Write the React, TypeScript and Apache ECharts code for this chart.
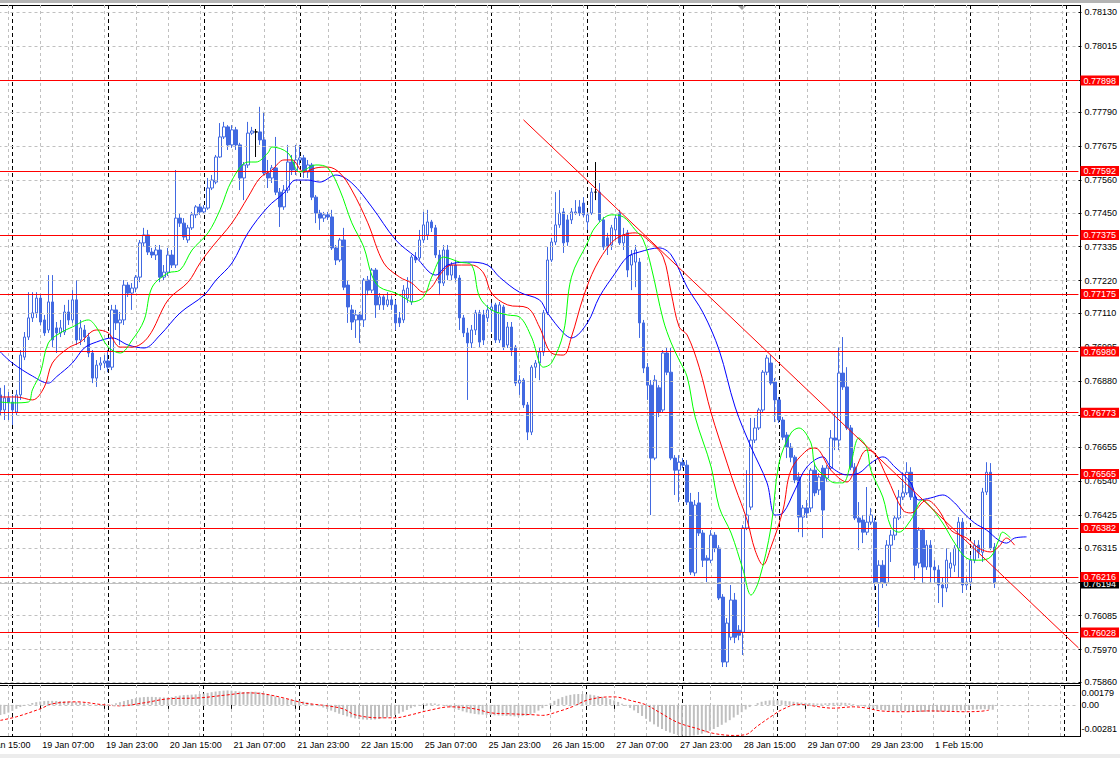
import { useEffect, useRef } from "react";
import * as echarts from "echarts";

// ---------- time axis ----------
const tradingDays = ["18 Jan", "19 Jan", "20 Jan", "21 Jan", "22 Jan", "25 Jan", "26 Jan", "27 Jan", "28 Jan", "29 Jan", "1 Feb", "2 Feb"];
const firstHour = 13; // first (off-screen) bar: 18 Jan 13:00
const OFF = 8; // bars hidden left of the visible area
const historyCount = 258; // OFF + 250 candles
const futureCount = 21; // empty shift area on the right

// ---------- price axis ----------
const priceTicks = [0.7813, 0.78015, 0.779, 0.7779, 0.77675, 0.7756, 0.7745, 0.77335, 0.7722, 0.7711, 0.76995, 0.7688, 0.76765, 0.76655, 0.7654, 0.76425, 0.76315, 0.762, 0.76085, 0.7597, 0.7586];
const hiddenTickLabels = [0.779, 0.76765, 0.762]; // covered by the level labels
const priceMin = 0.75857;
const priceMax = 0.78154;
const levels = [0.77898, 0.77592, 0.77375, 0.77175, 0.7698, 0.76773, 0.76565, 0.76382, 0.76216, 0.76028];
const bidPrice = 0.76194;
const trendLine = [[131, 77765], [270, 75976]];
const macdTicks = [0.00179, 0, -0.00281];

// ---------- candles (points of 1e-5): [open, close, low, high] ----------
const candles = [
  [76833, 76782, 76765, 76857], [76782, 76823, 76748, 76866], [76823, 76809, 76748, 76843], [76809, 76782, 76731, 76833], [76775, 76833, 76765, 76850],
  [76833, 76968, 76816, 76985], [76961, 77029, 76951, 77046], [77029, 77094, 77019, 77181], [77094, 77111, 77080, 77181], [77111, 77161, 77094, 77181],
  [77161, 77080, 77070, 77175], [77087, 77043, 77033, 77104], [77053, 77148, 77043, 77239], [77148, 77019, 76995, 77239], [77060, 77043, 76975, 77080],
  [77043, 77060, 77029, 77087], [77046, 77114, 77036, 77138], [77114, 77087, 77070, 77155], [77087, 77155, 77077, 77188], [77155, 77019, 77002, 77222],
  [77019, 77060, 77002, 77087], [77053, 77029, 77012, 77070], [77029, 76975, 76961, 77043], [76975, 76890, 76873, 76985], [76890, 76934, 76860, 76951],
  [76934, 76941, 76917, 76961], [76941, 76948, 76924, 76968], [76948, 76927, 76910, 76985], [76927, 77121, 76917, 77138], [77121, 77077, 77053, 77138],
  [77077, 77087, 77002, 77114], [77087, 77205, 77070, 77222], [77205, 77178, 77165, 77215], [77178, 77195, 77121, 77212], [77195, 77232, 77181, 77239],
  [77232, 77348, 77215, 77358], [77348, 77375, 77334, 77399], [77375, 77317, 77307, 77392], [77317, 77307, 77297, 77331], [77307, 77324, 77290, 77341],
  [77324, 77232, 77215, 77341], [77232, 77249, 77222, 77273], [77249, 77307, 77236, 77331], [77307, 77273, 77263, 77324], [77273, 77432, 77263, 77595],
  [77432, 77415, 77402, 77449], [77415, 77368, 77358, 77432], [77358, 77399, 77348, 77409], [77399, 77443, 77392, 77453], [77443, 77470, 77432, 77476],
  [77470, 77453, 77443, 77480], [77453, 77466, 77446, 77476], [77466, 77534, 77460, 77568], [77534, 77561, 77527, 77578], [77554, 77639, 77547, 77646],
  [77639, 77707, 77636, 77754], [77707, 77741, 77700, 77758], [77741, 77680, 77663, 77747], [77680, 77731, 77670, 77747], [77731, 77680, 77663, 77741],
  [77680, 77568, 77527, 77687], [77568, 77612, 77493, 77622], [77612, 77720, 77602, 77758], [77720, 77727, 77714, 77741], [77724, 77724, 77639, 77734],
  [77724, 77697, 77680, 77809], [77697, 77585, 77578, 77792], [77585, 77568, 77534, 77629], [77568, 77602, 77551, 77612], [77602, 77520, 77510, 77707],
  [77520, 77470, 77402, 77534], [77470, 77527, 77460, 77544], [77527, 77622, 77517, 77680], [77622, 77595, 77578, 77646], [77595, 77629, 77578, 77680],
  [77629, 77636, 77612, 77680], [77636, 77588, 77568, 77646], [77588, 77612, 77568, 77629], [77612, 77503, 77493, 77619], [77503, 77449, 77415, 77510],
  [77449, 77432, 77392, 77460], [77432, 77443, 77419, 77453], [77443, 77436, 77426, 77453], [77436, 77331, 77324, 77460], [77331, 77290, 77273, 77341],
  [77290, 77358, 77283, 77365], [77358, 77198, 77188, 77399], [77205, 77131, 77077, 77222], [77121, 77080, 77053, 77138], [77087, 77104, 77026, 77121],
  [77104, 77087, 77009, 77114], [77087, 77222, 77063, 77229], [77222, 77188, 77171, 77236], [77188, 77256, 77178, 77263], [77256, 77138, 77094, 77263],
  [77138, 77165, 77121, 77178], [77165, 77138, 77121, 77171], [77138, 77155, 77131, 77181], [77155, 77138, 77121, 77168], [77138, 77077, 77053, 77155],
  [77094, 77077, 77063, 77114], [77087, 77188, 77077, 77205], [77161, 77195, 77145, 77232], [77148, 77300, 77138, 77307], [77300, 77290, 77280, 77317],
  [77297, 77358, 77290, 77392], [77358, 77409, 77348, 77453], [77375, 77419, 77358, 77460], [77419, 77399, 77385, 77426], [77399, 77307, 77297, 77409],
  [77307, 77212, 77171, 77324], [77212, 77324, 77202, 77341], [77324, 77239, 77222, 77341], [77239, 77273, 77222, 77283], [77273, 77229, 77215, 77290],
  [77229, 77094, 77053, 77239], [77094, 77043, 77029, 77104], [77043, 77009, 76816, 77060], [77009, 77053, 76992, 77070], [77053, 77111, 77036, 77121],
  [77111, 77012, 76992, 77121], [77104, 77019, 77002, 77121], [77094, 77121, 77080, 77138], [77121, 77131, 77046, 77145], [77138, 77019, 77009, 77145],
  [77019, 77138, 77009, 77148], [77131, 76995, 76985, 77138], [77002, 77063, 76992, 77080], [77063, 76985, 76965, 77080], [76995, 76873, 76863, 77002],
  [76873, 76883, 76833, 76900], [76883, 76799, 76789, 76890], [76799, 76707, 76680, 76809], [76707, 76927, 76697, 76934], [76927, 76941, 76890, 76951],
  [76941, 76978, 76883, 76992], [76978, 77111, 76965, 77121], [77111, 77290, 77104, 77334], [77290, 77351, 77283, 77365], [77351, 77409, 77341, 77520],
  [77409, 77449, 77399, 77527], [77453, 77348, 77314, 77466], [77426, 77351, 77338, 77443], [77426, 77453, 77412, 77466], [77449, 77453, 77443, 77493],
  [77470, 77449, 77439, 77493], [77483, 77443, 77436, 77503], [77419, 77443, 77392, 77453], [77449, 77520, 77443, 77534], [77520, 77520, 77493, 77622],
  [77520, 77426, 77419, 77551], [77426, 77334, 77324, 77436], [77365, 77334, 77307, 77382], [77341, 77399, 77324, 77409], [77392, 77432, 77358, 77443],
  [77449, 77348, 77341, 77460], [77348, 77375, 77324, 77399], [77382, 77256, 77232, 77392], [77273, 77307, 77188, 77324], [77283, 77324, 77198, 77341],
  [77283, 77077, 77026, 77297], [77077, 76924, 76907, 77087], [76927, 76866, 76816, 76941], [76866, 76619, 76426, 76883], [76619, 76883, 76612, 76900],
  [76857, 76775, 76758, 76866], [76782, 76975, 76772, 76985], [76975, 76910, 76900, 76995], [76910, 76619, 76612, 76992], [76619, 76578, 76494, 76629],
  [76578, 76605, 76470, 76629], [76605, 76595, 76585, 76619], [76595, 76470, 76460, 76612], [76470, 76233, 76223, 76501], [76230, 76460, 76219, 76477],
  [76467, 76365, 76355, 76504], [76365, 76273, 76250, 76375], [76280, 76273, 76199, 76290], [76273, 76358, 76263, 76375], [76358, 76314, 76300, 76368],
  [76314, 76145, 76138, 76324], [76148, 75928, 75911, 76158], [75928, 76060, 75911, 76077], [76012, 76138, 76002, 76189], [76138, 76012, 75992, 76162],
  [76036, 76019, 76002, 76053], [76029, 76382, 75952, 76392], [76382, 76426, 76375, 76578], [76453, 76680, 76443, 76755], [76680, 76721, 76670, 76755],
  [76721, 76782, 76714, 76789], [76782, 76910, 76775, 76917], [76910, 76958, 76900, 76968], [76941, 76873, 76866, 76968], [76877, 76816, 76741, 76890],
  [76816, 76748, 76738, 76826], [76748, 76690, 76680, 76758], [76697, 76656, 76619, 76707], [76656, 76622, 76605, 76670], [76622, 76545, 76534, 76629],
  [76555, 76419, 76368, 76571], [76419, 76450, 76351, 76460], [76450, 76433, 76416, 76477], [76450, 76578, 76436, 76585], [76578, 76501, 76490, 76602],
  [76511, 76555, 76494, 76568], [76585, 76443, 76348, 76595], [76551, 76585, 76538, 76595], [76585, 76687, 76578, 76714], [76687, 76680, 76646, 76772],
  [76680, 76907, 76646, 76995], [76907, 76860, 76850, 77029], [76860, 76721, 76714, 76927], [76721, 76588, 76578, 76731], [76588, 76416, 76409, 76602],
  [76416, 76402, 76307, 76470], [76409, 76368, 76331, 76426], [76368, 76402, 76358, 76521], [76402, 76426, 76392, 76450], [76402, 76196, 76172, 76416],
  [76196, 76256, 76046, 76273], [76256, 76196, 76179, 76273], [76196, 76324, 76186, 76341], [76324, 76358, 76267, 76375], [76358, 76416, 76341, 76426],
  [76416, 76487, 76409, 76511], [76487, 76501, 76477, 76571], [76501, 76571, 76494, 76605], [76571, 76487, 76477, 76588], [76487, 76256, 76206, 76501],
  [76263, 76375, 76246, 76385], [76375, 76250, 76196, 76382], [76250, 76324, 76240, 76341], [76324, 76250, 76196, 76341], [76250, 76240, 76196, 76273],
  [76240, 76189, 76128, 76256], [76189, 76179, 76114, 76213], [76179, 76273, 76165, 76314], [76246, 76263, 76213, 76300], [76256, 76314, 76233, 76324],
  [76314, 76402, 76213, 76419], [76402, 76189, 76162, 76416], [76189, 76199, 76172, 76213], [76199, 76273, 76186, 76290], [76273, 76324, 76263, 76341],
  [76324, 76300, 76280, 76341], [76300, 76504, 76267, 76518], [76504, 76571, 76494, 76605], [76571, 76314, 76307, 76602], [76317, 76194, 76179, 76331],
];
const dojiBars = [64, 149];

// ---------- Alligator lines: [bar, price points] ----------
const jaw = [[0, 76978], [3, 76941], [8, 76897], [12, 76873], [14, 76894], [18, 76941], [21, 76992], [24, 77012], [28, 77026], [32, 77002], [36, 76992], [40, 77036], [45, 77111], [51, 77171], [54, 77222], [58, 77280], [62, 77382], [67, 77470], [71, 77517], [74, 77561], [77, 77561], [80, 77554], [84, 77578], [88, 77551], [93, 77470], [99, 77358], [104, 77300], [109, 77239], [112, 77273], [117, 77283], [122, 77273], [125, 77232], [130, 77181], [135, 77155], [137, 77111], [141, 77043], [143, 77026], [147, 77077], [150, 77165], [154, 77246], [157, 77300], [160, 77317], [165, 77331], [168, 77307], [172, 77198], [176, 77111], [180, 76985], [184, 76792], [188, 76656], [192, 76535], [194, 76426], [196, 76433], [199, 76511], [202, 76589], [206, 76623], [208, 76589], [212, 76562], [215, 76568], [218, 76602], [221, 76623], [224, 76589], [228, 76535], [230, 76477], [233, 76484], [236, 76494], [239, 76467], [241, 76436], [244, 76399], [247, 76375], [250, 76341], [252, 76331], [254, 76348], [257, 76352]];
const teeth = [[0, 76826], [4, 76826], [8, 76816], [11, 76860], [13, 76941], [17, 76992], [20, 77012], [24, 77053], [27, 77043], [30, 76995], [33, 76995], [37, 77029], [42, 77155], [47, 77215], [50, 77280], [53, 77334], [58, 77416], [62, 77503], [65, 77568], [68, 77595], [71, 77629], [73, 77629], [76, 77588], [79, 77602], [82, 77605], [85, 77585], [88, 77527], [92, 77416], [96, 77280], [100, 77232], [103, 77212], [106, 77181], [108, 77198], [110, 77239], [113, 77273], [118, 77273], [121, 77246], [123, 77178], [127, 77138], [132, 77128], [135, 77063], [138, 76975], [141, 76968], [143, 77029], [146, 77165], [149, 77266], [153, 77348], [156, 77375], [159, 77382], [163, 77348], [166, 77300], [168, 77178], [170, 77063], [172, 77036], [175, 76927], [178, 76772], [182, 76602], [184, 76521], [187, 76409], [189, 76307], [191, 76257], [193, 76318], [196, 76443], [198, 76578], [202, 76646], [204, 76653], [208, 76578], [212, 76538], [214, 76578], [217, 76646], [219, 76636], [222, 76555], [226, 76443], [228, 76433], [232, 76477], [235, 76443], [238, 76375], [242, 76348], [245, 76314], [248, 76301], [250, 76318], [252, 76348], [254, 76324]];
const lips = [[0, 76809], [3, 76806], [7, 76809], [8, 76850], [10, 76907], [12, 77009], [15, 77043], [18, 77063], [22, 77087], [24, 77063], [27, 76995], [30, 76975], [33, 77019], [36, 77087], [38, 77198], [42, 77246], [45, 77256], [48, 77324], [52, 77382], [55, 77460], [58, 77561], [62, 77622], [64, 77622], [67, 77653], [68, 77673], [72, 77653], [75, 77588], [79, 77612], [82, 77602], [85, 77527], [88, 77416], [91, 77334], [93, 77239], [95, 77198], [99, 77178], [102, 77155], [103, 77148], [106, 77165], [108, 77232], [111, 77300], [115, 77283], [118, 77273], [120, 77165], [123, 77121], [127, 77104], [130, 77097], [133, 77029], [136, 76927], [138, 76941], [141, 77043], [143, 77232], [147, 77348], [149, 77402], [153, 77443], [156, 77436], [159, 77392], [161, 77358], [163, 77266], [166, 77087], [168, 77009], [170, 76951], [172, 76894], [174, 76758], [178, 76589], [180, 76453], [183, 76365], [186, 76240], [188, 76155], [190, 76206], [193, 76385], [195, 76602], [198, 76704], [200, 76721], [203, 76670], [204, 76595], [207, 76551], [209, 76535], [211, 76535], [213, 76602], [215, 76687], [217, 76653], [218, 76578], [221, 76487], [223, 76386], [225, 76368], [228, 76409], [231, 76477], [233, 76453], [236, 76399], [239, 76331], [242, 76280], [245, 76273], [248, 76284], [250, 76341], [251, 76368], [253, 76348]];

// ---------- MACD (1e-5 units) ----------
const macdMain = [
  -92, -84, -70, -54, -36, -20, -6, 6, 16, 24, 30, 34, 36, 36, 35, 34, 32, 30, 28, 24,
  20, 14, 8, 2, -4, -8, -8, -4, 4, 14, 24, 34, 44, 52, 60, 66, 70, 72, 72, 70,
  68, 66, 66, 70, 78, 84, 88, 90, 92, 94, 98, 102, 108, 114, 120, 124, 128, 130, 128, 124,
  120, 116, 116, 118, 118, 114, 106, 96, 86, 76, 66, 58, 52, 48, 44, 38, 30, 22, 12, 0,
  -12, -24, -38, -52, -66, -80, -92, -104, -114, -122, -128, -132, -134, -134, -132, -128, -122, -114, -104, -92,
  -78, -62, -46, -30, -16, -4, 6, 12, 14, 12, 6, -2, -12, -22, -34, -46, -58, -68, -76, -82,
  -86, -88, -90, -92, -94, -96, -98, -100, -102, -104, -104, -102, -98, -88, -72, -52, -30, -8, 14, 36,
  54, 70, 82, 90, 96, 98, 98, 96, 92, 86, 80, 72, 62, 52, 40, 26, 10, -8, -28, -50,
  -74, -100, -126, -152, -176, -198, -218, -236, -250, -262, -272, -278, -281, -280, -276, -270, -260, -248, -234, -218,
  -200, -180, -160, -138, -114, -90, -66, -42, -20, 0, 16, 28, 36, 40, 42, 42, 40, 36, 32, 28,
  24, 20, 18, 16, 14, 12, 12, 14, 16, 18, 20, 20, 18, 14, 8, 0, -8, -16, -24, -32,
  -40, -46, -50, -54, -56, -56, -56, -56, -58, -60, -62, -64, -64, -64, -64, -62, -60, -58, -56, -54,
  -52, -50, -48, -46, -44, -42, -40, -40, -42, -44,
];
const signalPoints = [[0, -140], [4, -108], [10, -36], [13, 9], [19, 27], [26, 0], [30, -9], [36, 18], [42, 54], [50, 63], [57, 90], [62, 108], [66, 99], [71, 63], [76, 18], [82, -9], [86, -36], [89, -90], [95, -117], [99, -117], [103, -90], [107, -54], [113, -18], [119, -36], [123, -72], [128, -81], [134, -90], [136, -95], [140, -60], [144, -10], [147, 40], [151, 68], [154, 72], [158, 40], [162, 0], [165, -60], [170, -160], [175, -216], [179, -258], [184, -276], [187, -268], [190, -190], [194, -90], [196, -45], [200, 5], [203, -5], [209, -30], [214, -18], [217, -27], [221, -55], [227, -62], [233, -55], [237, -58], [242, -62], [246, -58], [248, -48]];

// ---------- derived tables ----------
const categories: string[] = [];
for (const d of tradingDays) {
  for (let h = 0; h < 24; h++) {
    if (d === tradingDays[0] && h < firstHour) continue;
    categories.push(`${d} ${String(h).padStart(2, "0")}:00`);
  }
}
categories.splice(historyCount);
for (let i = 0; i < futureCount; i++) categories.push("");

const P = (v: number) => v / 100000;
const candleRows = candles.map((c, b) => [b + OFF, P(c[0]), P(c[1]), P(c[2]), P(c[3])]);
const normalRows = candleRows.filter((_, b) => !dojiBars.includes(b));
const dojiRows = candleRows.filter((_, b) => dojiBars.includes(b));
const toLine = (pts: number[][]) => pts.map(([b, v]) => [b + OFF, P(v)]);
const priceLabels = priceTicks.filter((v) => !hiddenTickLabels.includes(v));

const FONT = "Liberation Sans, Arial, sans-serif";
const BLUE = "#4169E1";
const SHIFT = 32; // the chart canvas starts 32px left of the page

const gridLineSplit = (fn: (i: number) => boolean, color: string, dash: number[]) => ({
  show: true,
  interval: (i: number) => fn(i),
  lineStyle: { color, type: dash, width: 1 },
});

const baseX = (gridIndex: number) => ({
  type: "category",
  data: categories,
  gridIndex,
  boundaryGap: false,
  axisLine: { show: false },
  axisTick: { show: false },
  axisLabel: { show: false },
});

const labelBar = (i: number) => (i - 2) % 16 === 0 && i - OFF < candles.length;

const levelLabel = (bg: string) => ({
  show: true,
  position: "end",
  distance: 2,
  formatter: (p: any) => Number(p.value).toFixed(5),
  backgroundColor: bg,
  color: "#ffffff",
  padding: [1, 3, 0, 3],
  fontSize: 9,
  fontFamily: FONT,
});

const option: any = {
  animation: false,
  backgroundColor: "#ffffff",
  textStyle: { fontFamily: FONT },
  grid: [
    { left: 0.5, right: 39.5, top: 5, height: 678 },
    { left: 0.5, right: 39.5, top: 685, height: 51 },
  ],
  xAxis: [
    { ...baseX(0), splitLine: gridLineSplit((i) => i % 8 === 2, "#c0c0c0", [3, 3]) },
    { ...baseX(0), splitLine: gridLineSplit((i) => i % 24 === 11, "#000000", [4, 3]) },
    {
      ...baseX(1),
      splitLine: gridLineSplit((i) => i % 8 === 2, "#c0c0c0", [3, 3]),
      axisTick: { show: true, interval: (i: number) => labelBar(i), length: 4, lineStyle: { color: "#000" } },
      axisLabel: {
        show: true,
        interval: (i: number) => labelBar(i),
        align: "left",
        margin: 4,
        padding: [0, 0, 0, 2],
        fontSize: 9,
        fontFamily: FONT,
        color: "#000",
      },
    },
    { ...baseX(1), splitLine: gridLineSplit((i) => i % 24 === 11, "#000000", [4, 3]) },
  ],
  yAxis: [
    {
      type: "value",
      gridIndex: 0,
      position: "right",
      min: priceMin,
      max: priceMax,
      axisLine: { show: false },
      splitLine: { show: false },
      axisTick: { show: true, length: 3, customValues: priceTicks, lineStyle: { color: "#000" } },
      axisLabel: {
        customValues: priceLabels,
        formatter: (v: number) => v.toFixed(5),
        margin: 6,
        fontSize: 9,
        fontFamily: FONT,
        color: "#000",
      },
    },
    {
      type: "value",
      gridIndex: 1,
      position: "right",
      min: macdTicks[2],
      max: macdTicks[0],
      axisLine: { show: false },
      splitLine: { show: false },
      axisTick: { show: false },
      axisLabel: {
        customValues: macdTicks,
        formatter: (v: number) => (v > 0 ? `{t|${v.toFixed(5)}}` : v < 0 ? `{b|${v.toFixed(5)}}` : "0.00"),
        rich: {
          t: { padding: [16, 0, 0, 0], fontSize: 9, fontFamily: FONT, color: "#000" },
          b: { padding: [0, 0, 14, 0], fontSize: 9, fontFamily: FONT, color: "#000" },
        },
        margin: 5,
        fontSize: 9,
        fontFamily: FONT,
        color: "#000",
      },
    },
  ],
  series: [
    {
      name: "grid",
      type: "line",
      xAxisIndex: 0,
      yAxisIndex: 0,
      data: [],
      z: 1,
      markLine: {
        silent: true,
        precision: 6,
        symbol: ["none", "none"],
        label: { show: false },
        lineStyle: { color: "#c0c0c0", type: [3, 3], width: 1 },
        data: priceTicks.map((v) => ({ yAxis: v })),
      },
    },
    {
      name: "bid",
      type: "line",
      xAxisIndex: 0,
      yAxisIndex: 0,
      data: [],
      z: 2,
      markLine: {
        silent: true,
        precision: 6,
        symbol: ["none", "none"],
        lineStyle: { color: "#c0c0c0", type: "solid", width: 1 },
        label: levelLabel("#000000"),
        data: [{ yAxis: bidPrice }],
      },
    },
    {
      name: "candles",
      type: "candlestick",
      xAxisIndex: 0,
      yAxisIndex: 0,
      data: normalRows,
      encode: { x: 0, y: [1, 2, 3, 4] },
      barWidth: 3,
      z: 3,
      itemStyle: { color: "#ffffff", color0: BLUE, borderColor: BLUE, borderColor0: BLUE, borderWidth: 1 },
    },
    {
      name: "doji",
      type: "candlestick",
      xAxisIndex: 0,
      yAxisIndex: 0,
      data: dojiRows,
      encode: { x: 0, y: [1, 2, 3, 4] },
      barWidth: 3,
      z: 3,
      itemStyle: { color: "#000", color0: "#000", borderColor: "#000", borderColor0: "#000", borderWidth: 1 },
    },
    {
      name: "levels",
      type: "line",
      xAxisIndex: 0,
      yAxisIndex: 0,
      data: [],
      z: 4,
      markLine: {
        silent: true,
        precision: 6,
        symbol: ["none", "none"],
        lineStyle: { color: "#ff0000", type: "solid", width: 1 },
        label: levelLabel("#ff0000"),
        data: levels.map((v) => ({ yAxis: v })),
      },
    },
    {
      name: "jaw",
      type: "line",
      xAxisIndex: 0,
      yAxisIndex: 0,
      data: toLine(jaw),
      smooth: 0.35,
      symbol: "none",
      z: 5,
      lineStyle: { color: "#0000ff", width: 1 },
    },
    {
      name: "teeth",
      type: "line",
      xAxisIndex: 0,
      yAxisIndex: 0,
      data: toLine(teeth),
      smooth: 0.35,
      symbol: "none",
      z: 5,
      lineStyle: { color: "#ff0000", width: 1 },
    },
    {
      name: "lips",
      type: "line",
      xAxisIndex: 0,
      yAxisIndex: 0,
      data: toLine(lips),
      smooth: 0.35,
      symbol: "none",
      z: 5,
      lineStyle: { color: "#00ff00", width: 1 },
    },
    {
      name: "trend",
      type: "line",
      xAxisIndex: 0,
      yAxisIndex: 0,
      data: toLine(trendLine),
      symbol: "none",
      z: 6,
      lineStyle: { color: "#ff0000", width: 1 },
    },
    {
      name: "MACD",
      type: "bar",
      xAxisIndex: 2,
      yAxisIndex: 1,
      data: macdMain.map((v, b) => [b + OFF, v / 100000]),
      barWidth: 2,
      z: 3,
      itemStyle: { color: "#c0c0c0" },
      markLine: {
        silent: true,
        precision: 6,
        symbol: ["none", "none"],
        label: { show: false },
        lineStyle: { color: "#c0c0c0", type: [3, 3], width: 1 },
        data: [{ yAxis: 0 }],
      },
    },
    {
      name: "Signal",
      type: "line",
      xAxisIndex: 2,
      yAxisIndex: 1,
      data: signalPoints.map(([b, v]) => [b + OFF, v / 100000]),
      smooth: 0.35,
      symbol: "none",
      z: 4,
      lineStyle: { color: "#ff0000", width: 1, type: [3, 2] },
    },
  ],
  graphic: [
    { type: "rect", silent: true, shape: { x: 0, y: 0, width: 1152, height: 3 }, style: { fill: "#b4b4b4" } },
    { type: "rect", silent: true, shape: { x: 0, y: 754, width: 1152, height: 4 }, style: { fill: "#ececec" } },
    { type: "line", silent: true, shape: { x1: 0, y1: 5.5, x2: SHIFT + 1081, y2: 5.5 }, style: { stroke: "#000", lineWidth: 1 } },
    { type: "line", silent: true, shape: { x1: SHIFT + 1080.5, y1: 5, x2: SHIFT + 1080.5, y2: 737 }, style: { stroke: "#000", lineWidth: 1 } },
    { type: "line", silent: true, shape: { x1: 0, y1: 683.5, x2: SHIFT + 1081, y2: 683.5 }, style: { stroke: "#000", lineWidth: 1 } },
    { type: "line", silent: true, shape: { x1: 0, y1: 685.5, x2: SHIFT + 1081, y2: 685.5 }, style: { stroke: "#000", lineWidth: 1 } },
    { type: "line", silent: true, shape: { x1: 0, y1: 736.5, x2: SHIFT + 1081, y2: 736.5 }, style: { stroke: "#000", lineWidth: 1 } },
    { type: "polygon", silent: true, shape: { points: [[SHIFT + 738, 6], [SHIFT + 746, 6], [SHIFT + 742, 10]] }, style: { fill: "#a0a0a0" } },
  ],
};

export default function App() {
  const ref = useRef<HTMLDivElement>(null);
  useEffect(() => {
    document.body.style.margin = "0";
    document.body.style.overflow = "hidden";
    const chart = echarts.init(ref.current!, undefined, { renderer: "svg" });
    chart.setOption(option);
    return () => chart.dispose();
  }, []);
  return <div ref={ref} style={{ width: 1120 + SHIFT, height: 758, marginLeft: -SHIFT }} />;
}
